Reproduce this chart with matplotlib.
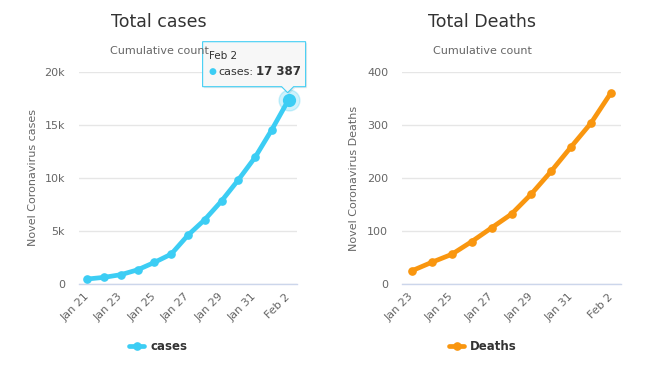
import numpy as np
import matplotlib
matplotlib.use("Agg")
import matplotlib.pyplot as plt
from matplotlib.patches import Polygon
from matplotlib.transforms import IdentityTransform
from matplotlib.ticker import FuncFormatter

# data
cases_dates = ['Jan 21', 'Jan 22', 'Jan 23', 'Jan 24', 'Jan 25', 'Jan 26', 'Jan 27',
               'Jan 28', 'Jan 29', 'Jan 30', 'Jan 31', 'Feb 1', 'Feb 2']
cases = [470, 630, 880, 1340, 2040, 2820, 4610, 6070, 7830, 9820, 11950, 14560, 17387]

deaths_dates = ['Jan 23', 'Jan 24', 'Jan 25', 'Jan 26', 'Jan 27', 'Jan 28', 'Jan 29',
                'Jan 30', 'Jan 31', 'Feb 1', 'Feb 2']
deaths = [25, 41, 56, 80, 106, 132, 170, 213, 259, 304, 361]

cases_ticks = [0, 5000, 10000, 15000, 20000]
deaths_ticks = [0, 100, 200, 300, 400]

c_cases = '#3ccdf4'
c_deaths = '#f9960f'
W, H = 660, 365

plt.rcParams['font.family'] = ['DejaVu Sans']
fig = plt.figure(figsize=(W / 100, H / 100), dpi=100)

ax1 = fig.add_axes([79 / W, 1 - 284 / H, 218 / W, 212 / H])
ax2 = fig.add_axes([402 / W, 1 - 284 / H, 219 / W, 212 / H])


def style_axis(ax, dates, values, color, yticks, ylabel, fmt, label, lab_x):
    x = np.arange(len(dates))
    line, = ax.plot(x, values, color=color, lw=3.4, marker='o', ms=5.2,
                    solid_capstyle='round', solid_joinstyle='round', label=label, zorder=3)
    ax.set_xlim(-0.5, len(dates) - 0.5)
    ax.set_ylim(yticks[0], yticks[-1])
    ax.set_yticks(yticks)
    ax.yaxis.set_major_formatter(FuncFormatter(fmt))
    ax.set_xticks(x[::2])
    ax.set_xticklabels(dates[::2], rotation=45, ha='right', va='center',
                       rotation_mode='anchor')
    ax.tick_params(axis='x', length=0, pad=8, labelsize=8, colors='#666666')
    ax.tick_params(axis='y', length=0, pad=10, labelsize=8, colors='#666666')
    ax.grid(axis='y', color='#e6e6e6', lw=1)
    ax.set_axisbelow(True)
    for s in ['top', 'right', 'left']:
        ax.spines[s].set_visible(False)
    ax.spines['bottom'].set_color('#ccd6eb')
    ax.spines['bottom'].set_linewidth(1)
    ax.set_ylabel(ylabel, fontsize=8, color='#666666')
    ax.yaxis.set_label_coords(lab_x, 0.5)
    return line


def kfmt(v, p):
    return '0' if v == 0 else '%dk' % (v / 1000)


def nfmt(v, p):
    return '%d' % v


l1 = style_axis(ax1, cases_dates, cases, c_cases, cases_ticks,
                'Novel Coronavirus cases', kfmt, 'cases', -0.19)
l2 = style_axis(ax2, deaths_dates, deaths, c_deaths, deaths_ticks,
                'Novel Coronavirus Deaths', nfmt, 'Deaths', -0.195)

# titles
for cx, t in [(159, 'Total cases'), (482, 'Total Deaths')]:
    fig.text(cx / W, 1 - 22 / H, t, ha='center', va='center', fontsize=12.5, color='#333333')
    fig.text(cx / W, 1 - 51 / H, 'Cumulative count', ha='center', va='center',
             fontsize=8, color='#666666')

# legends
for cx, ln, lab in [(158, l1, 'cases'), (483, l2, 'Deaths')]:
    fig.legend([ln], [lab], loc='center', bbox_to_anchor=(cx / W, 1 - 347 / H),
               frameon=False, handlelength=1.3, handletextpad=0.5,
               prop={'weight': 'bold', 'size': 8.5}, labelcolor='#333333')

# hover state on last cases point
lx, ly = len(cases) - 1, cases[-1]
ax1.plot([lx], [ly], 'o', ms=15, color=c_cases, alpha=0.25, zorder=4, clip_on=False)
ax1.plot([lx], [ly], 'o', ms=8.5, color=c_cases, zorder=5, clip_on=False)

# tooltip
px, py = ax1.transData.transform((lx, ly))
L, R, B, T = px - 86, px + 17, py + 13, py + 58
verts = [(L, B), (px - 7, B), (px - 1, py + 7), (px + 5, B), (R, B), (R, T), (L, T)]
shadow = Polygon([(vx + 1.5, vy - 1.5) for vx, vy in verts], closed=True,
                 transform=IdentityTransform(), fc='black', ec='none', alpha=0.08)
box = Polygon(verts, closed=True, transform=IdentityTransform(),
              fc='#f8f8f8', ec=c_cases, lw=0.8, alpha=0.97)
fig.patches.extend([shadow, box])
fig.text(L + 6, T - 14, cases_dates[-1], transform=IdentityTransform(),
         ha='left', va='center', fontsize=7.5, color='#333333')
fig.text(L + 10, T - 30, '\u25cf', transform=IdentityTransform(),
         ha='center', va='center', fontsize=6.5, color=c_cases)
fig.text(L + 16, T - 30, 'cases:', transform=IdentityTransform(),
         ha='left', va='center', fontsize=8, color='#333333')
fig.text(R - 5, T - 30, '{:,}'.format(ly).replace(',', ' '), transform=IdentityTransform(),
         ha='right', va='center', fontsize=8.5, fontweight='bold', color='#333333')

fig.savefig('out.png', dpi=100, facecolor='white')
